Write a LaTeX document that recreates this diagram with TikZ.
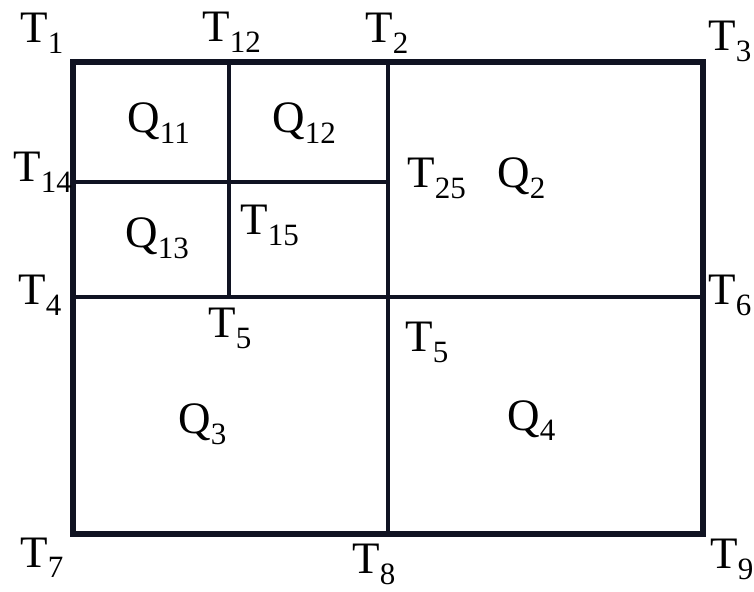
\documentclass[tikz,border=0pt]{standalone}
\usepackage{fontspec}
\setmainfont{Liberation Serif}
\newfontfamily\labfont{Liberation Serif}
\usepackage{tikz}
\usetikzlibrary{positioning, calc}

\definecolor{gridink}{RGB}{16,19,34}
\newcommand{\sublab}[2]{#1\raisebox{-5.5pt}{\fontsize{15.5}{16}\selectfont #2}}

\begin{document}
\begin{tikzpicture}[x=0.5pt, y=-0.5pt,
        lbl/.style={anchor=base west, inner sep=0pt, font=\labfont\fontsize{22.5}{24}\selectfont},
        outer/.style={draw=gridink, line width=3.2pt},
        inner/.style={draw=gridink, line width=2.2pt}
    ]
        \useasboundingbox (0,0) rectangle (754,592);

        % Corner points
        \coordinate (p1) at (73,62);
        \coordinate (p12) at (229,62);
        \coordinate (p2) at (388,62);
        \coordinate (p14) at (73,182);
        \coordinate (p25) at (388,182);
        \coordinate (p4) at (73,297);
        \coordinate (p5) at (229,297);
        \coordinate (p6) at (703,297);
        \coordinate (p8) at (388,534);
        \coordinate (p9) at (703,534);

        % Grid
        \draw[inner] (p12) -- (p5);
        \draw[inner] (p14) -- (p25);
        \draw[inner] (p2) -- (p8);
        \draw[inner] (p4) -- (p6);
        \draw[outer] (p1) rectangle (p9);

        % Points
        \node[lbl] (t1) at (20,43) {\sublab{T}{1}};
        \node[lbl] (t12) at (202,42) {\sublab{T}{12}};
        \node[lbl] (t2) at (365,43) {\sublab{T}{2}};
        \node[lbl] (t3) at (708,51) {\sublab{T}{3}};
        \node[lbl] (t14) at (13,182) {\sublab{T}{14}};
        \node[lbl] (t25) at (407,188) {\sublab{T}{25}};
        \node[lbl] (t15) at (240,235) {\sublab{T}{15}};
        \node[lbl] (t4) at (18,305) {\sublab{T}{4}};
        \node[lbl] (t6) at (708,305) {\sublab{T}{6}};
        \node[lbl] (t5a) at (208,338) {\sublab{T}{5}};
        \node[lbl] (t5b) at (405,352) {\sublab{T}{5}};
        \node[lbl] (t7) at (20,567) {\sublab{T}{7}};
        \node[lbl] (t8) at (352,573) {\sublab{T}{8}};
        \node[lbl] (t9) at (710,568) {\sublab{T}{9}};

        % Cells
        \node[lbl] (q11) at (127,133) {\sublab{Q}{11}};
        \node[lbl] (q12) at (272,133) {\sublab{Q}{12}};
        \node[lbl] (q13) at (125,248) {\sublab{Q}{13}};
        \node[lbl] (q2) at (497,188) {\sublab{Q}{2}};
        \node[lbl] (q3) at (178,434) {\sublab{Q}{3}};
        \node[lbl] (q4) at (507,430) {\sublab{Q}{4}};
    \end{tikzpicture}
\end{document}
